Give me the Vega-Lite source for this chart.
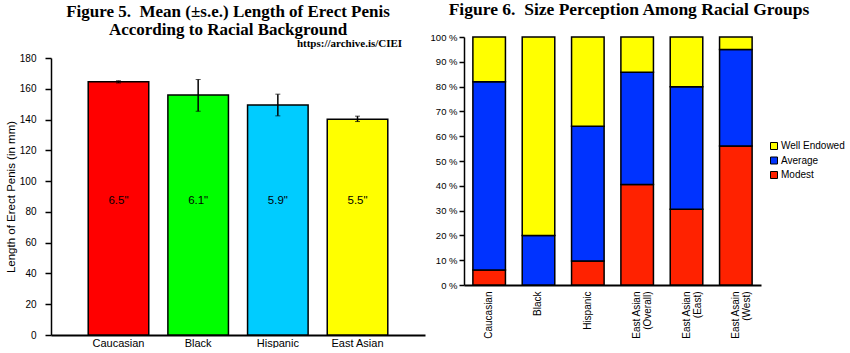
{
  "$schema": "https://vega.github.io/schema/vega-lite/v6.json",
  "background": "white",
  "padding": {"left": 5, "top": 0, "right": 0, "bottom": 0},
  "config": {
    "view": {"stroke": null},
    "font": "Liberation Sans",
    "axis": {"grid": false, "domainColor": "black", "tickColor": "black", "labelColor": "black", "titleColor": "black", "domainWidth": 1.5, "tickWidth": 1.5, "labelFont": "Liberation Sans", "titleFont": "Liberation Sans"}
  },
  "spacing": 5,
  "resolve": {"scale": {"color": "independent"}},
  "hconcat": [
    {
      "spacing": 0,
      "vconcat": [
        {
          "width": 354,
          "height": 24,
          "data": {"values": [{"t": ["Figure 5.\u00a0 Mean (±s.e.) Length of Erect Penis", "According to Racial Background"]}]},
          "mark": {"type": "text", "font": "Liberation Serif", "fontSize": 17, "fontWeight": "bold", "lineHeight": 18, "baseline": "middle", "align": "center", "color": "black"},
          "encoding": {"text": {"field": "t"}}
        },
        {
          "width": 374,
          "height": 277,
          "data": {"values": [
            {"group": "Caucasian", "mean": 164.5, "low": 163.8, "high": 165.2, "label": "6.5\""},
            {"group": "Black", "mean": 156, "low": 145.4, "high": 166, "label": "6.1\""},
            {"group": "Hispanic", "mean": 149.5, "low": 142.4, "high": 156.5, "label": "5.9\""},
            {"group": "East Asian", "mean": 140.2, "low": 138.7, "high": 142.2, "label": "5.5\""}
          ]},
          "encoding": {
            "x": {"field": "group", "type": "nominal", "sort": null,
              "scale": {"paddingInner": 0.24, "paddingOuter": 0.467},
              "axis": {"title": null, "labelAngle": 0, "ticks": false, "labelFontSize": 11, "labelPadding": 2, "domainWidth": 2}}
          },
          "layer": [
            {
              "mark": {"type": "bar", "stroke": "black", "strokeWidth": 1.5},
              "encoding": {
                "y": {"field": "mean", "type": "quantitative", "scale": {"domain": [0, 180]},
                  "axis": {"title": "Length of Erect Penis (in mm)", "titleFontSize": 11.5, "titleFontWeight": "normal", "titlePadding": 3, "values": [0, 20, 40, 60, 80, 100, 120, 140, 160, 180], "labelFontSize": 10, "labelPadding": 9, "tickSize": 6}},
                "color": {"field": "group", "type": "nominal", "scale": {"domain": ["Caucasian", "Black", "Hispanic", "East Asian"], "range": ["#FF0000", "#00FF00", "#00CCFF", "#FFFF00"]}, "legend": null}
              }
            },
            {
              "mark": {"type": "errorbar", "ticks": {"size": 5, "color": "black", "strokeWidth": 1.5}, "rule": {"color": "black", "strokeWidth": 1.5}},
              "encoding": {
                "y": {"field": "low", "type": "quantitative", "scale": {"domain": [0, 180]},
                  "axis": {"title": "Length of Erect Penis (in mm)", "titleFontSize": 11.5, "titleFontWeight": "normal", "titlePadding": 3, "values": [0, 20, 40, 60, 80, 100, 120, 140, 160, 180], "labelFontSize": 10, "labelPadding": 9, "tickSize": 6}},
                "y2": {"field": "high"}
              }
            },
            {
              "mark": {"type": "text", "fontSize": 11.5, "color": "black", "baseline": "middle"},
              "encoding": {
                "y": {"datum": 87, "type": "quantitative", "scale": {"domain": [0, 180]},
                  "axis": {"title": "Length of Erect Penis (in mm)", "titleFontSize": 11.5, "titleFontWeight": "normal", "titlePadding": 3, "values": [0, 20, 40, 60, 80, 100, 120, 140, 160, 180], "labelFontSize": 10, "labelPadding": 9, "tickSize": 6}},
                "text": {"field": "label"}
              }
            },
            {
              "data": {"values": [{"url": "https://archive.is/CIEI"}]},
              "mark": {"type": "text", "font": "Liberation Serif", "fontWeight": "bold", "fontSize": 11, "align": "center", "baseline": "middle", "dx": -8, "clip": false, "color": "black"},
              "encoding": {
                "x": {"datum": "East Asian"},
                "y": {"datum": 189, "type": "quantitative", "scale": {"domain": [0, 180]},
                  "axis": {"title": "Length of Erect Penis (in mm)", "titleFontSize": 11.5, "titleFontWeight": "normal", "titlePadding": 3, "values": [0, 20, 40, 60, 80, 100, 120, 140, 160, 180], "labelFontSize": 10, "labelPadding": 9, "tickSize": 6}},
                "text": {"field": "url"}
              }
            }
          ]
        }
      ]
    },
    {
      "spacing": 12,
      "vconcat": [
        {
          "width": 330,
          "height": 20,
          "data": {"values": [{"t": "Figure 6.\u00a0 Size Perception Among Racial Groups"}]},
          "mark": {"type": "text", "font": "Liberation Serif", "fontSize": 17.5, "fontWeight": "bold", "baseline": "middle", "align": "center", "color": "black"},
          "encoding": {"text": {"field": "t"}}
        },
        {
          "width": 297,
          "height": 248,
          "data": {"values": [
            {"group": "Caucasian", "perception": "Modest", "rank": 1, "pct": 6},
            {"group": "Caucasian", "perception": "Average", "rank": 2, "pct": 76},
            {"group": "Caucasian", "perception": "Well Endowed", "rank": 3, "pct": 18},
            {"group": "Black", "perception": "Modest", "rank": 1, "pct": 0},
            {"group": "Black", "perception": "Average", "rank": 2, "pct": 20},
            {"group": "Black", "perception": "Well Endowed", "rank": 3, "pct": 80},
            {"group": "Hispanic", "perception": "Modest", "rank": 1, "pct": 9.7},
            {"group": "Hispanic", "perception": "Average", "rank": 2, "pct": 54.3},
            {"group": "Hispanic", "perception": "Well Endowed", "rank": 3, "pct": 36},
            {"group": "East Asian (Overall)", "perception": "Modest", "rank": 1, "pct": 40.5},
            {"group": "East Asian (Overall)", "perception": "Average", "rank": 2, "pct": 45.3},
            {"group": "East Asian (Overall)", "perception": "Well Endowed", "rank": 3, "pct": 14.2},
            {"group": "East Asian (East)", "perception": "Modest", "rank": 1, "pct": 30.5},
            {"group": "East Asian (East)", "perception": "Average", "rank": 2, "pct": 49.4},
            {"group": "East Asian (East)", "perception": "Well Endowed", "rank": 3, "pct": 20.1},
            {"group": "East Asain (West)", "perception": "Modest", "rank": 1, "pct": 56},
            {"group": "East Asain (West)", "perception": "Average", "rank": 2, "pct": 39},
            {"group": "East Asain (West)", "perception": "Well Endowed", "rank": 3, "pct": 5}
          ]},
          "mark": {"type": "bar", "stroke": "black", "strokeWidth": 1.5},
          "encoding": {
            "x": {"field": "group", "type": "nominal", "sort": null,
              "scale": {"paddingInner": 0.34, "paddingOuter": 0.18},
              "axis": {"title": null, "labelAngle": -90, "ticks": false, "labelFontSize": 10, "labelPadding": 6, "domainWidth": 2, "labelLineHeight": 11,
                "labelExpr": "indexof(datum.label, ' (') > 0 ? [substring(datum.label, 0, indexof(datum.label, ' (')), substring(datum.label, indexof(datum.label, ' (') + 1)] : datum.label"}},
            "y": {"field": "pct", "type": "quantitative", "stack": "normalize",
              "axis": {"title": null, "labelExpr": "round(datum.value * 100) + ' %'", "values": [0, 0.1, 0.2, 0.3, 0.4, 0.5, 0.6, 0.7, 0.8, 0.9, 1], "labelFontSize": 9.5, "labelPadding": 2, "tickSize": 5}},
            "color": {"field": "perception", "type": "nominal",
              "scale": {"domain": ["Well Endowed", "Average", "Modest"], "range": ["#FFFF00", "#0033FF", "#FF2200"]},
              "legend": {"title": null, "orient": "none", "legendX": 305, "legendY": 141, "symbolType": "square", "symbolSize": 49, "symbolStrokeColor": "black", "symbolStrokeWidth": 1, "symbolOpacity": 1, "labelFontSize": 10, "labelColor": "black", "rowPadding": 2.5, "labelOffset": 2}},
            "order": {"field": "rank", "type": "quantitative"}
          }
        }
      ]
    }
  ]
}
